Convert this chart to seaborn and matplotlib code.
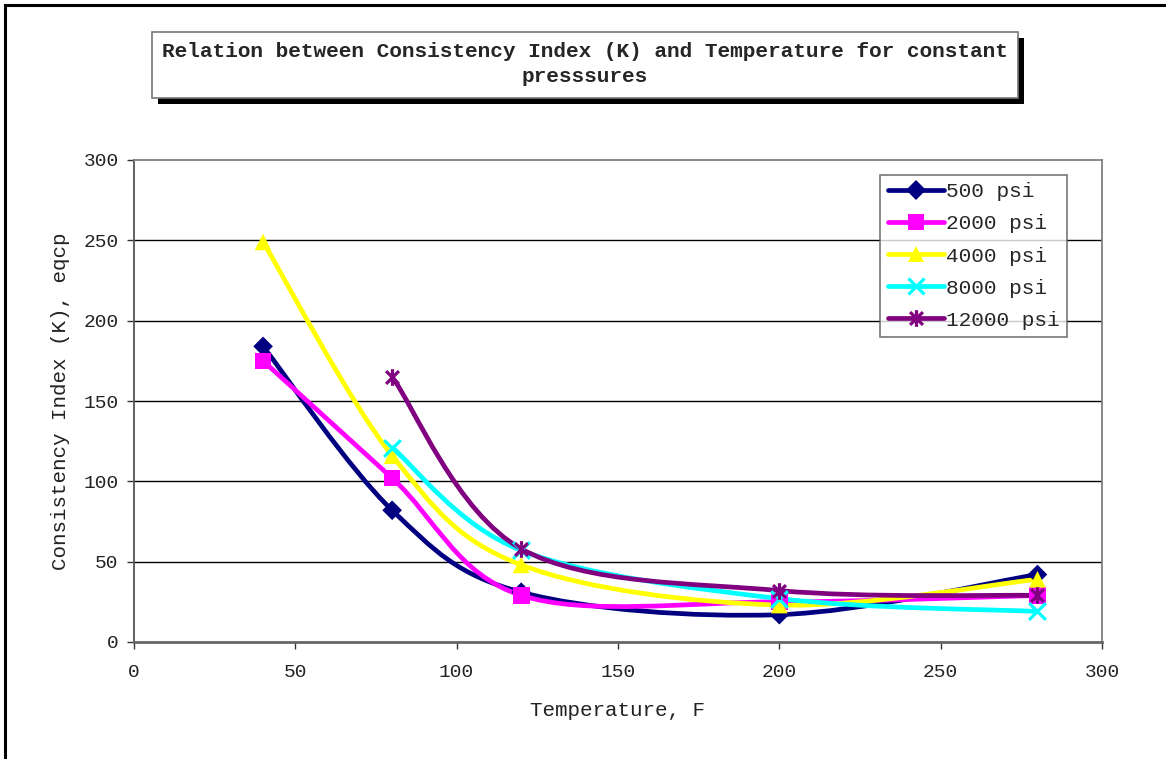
import numpy as np
import pandas as pd
import matplotlib
matplotlib.use("Agg")
import matplotlib.pyplot as plt
from matplotlib.path import Path
from matplotlib.patches import PathPatch, Rectangle
from matplotlib.lines import Line2D
import seaborn as sns

# ---- data ----
temperature = [40, 80, 120, 200, 280]
k_500 = [184, 82, 31, 17, 42]
k_2000 = [175, 102, 29, 25, 29]
k_4000 = [249, 116, 48, 23, 39]
k_8000 = [None, 121, 57, 27, 19]
k_12000 = [None, 165, 58, 32, 29]
series_names = ["500 psi", "2000 psi", "4000 psi", "8000 psi", "12000 psi"]
x_ticks = [0, 50, 100, 150, 200, 250, 300]
y_ticks = [0, 50, 100, 150, 200, 250, 300]
title_text = "Relation between Consistency Index (K) and Temperature for constant\npresssures"
x_label = "Temperature, F"
y_label = "Consistency Index (K), eqcp"

colors = ["#000080", "#FF00FF", "#FFFF00", "#00FFFF", "#800080"]

# custom Excel-like star marker (X with vertical bar)
star_path = Path(
    [(-1, -1), (1, 1), (-1, 1), (1, -1), (0, -1.3), (0, 1.3)],
    [Path.MOVETO, Path.LINETO, Path.MOVETO, Path.LINETO, Path.MOVETO, Path.LINETO],
)
markers = ["D", "s", "^", "x", star_path]
msizes = [10, 12, 12, 12, 12]

rows = []
for name, vals in zip(series_names, [k_500, k_2000, k_4000, k_8000, k_12000]):
    for t, v in zip(temperature, vals):
        if v is not None:
            rows.append({"Temperature": t, "K": v, "Series": name})
df = pd.DataFrame(rows)

sns.set_theme(style="white")
plt.rcParams["font.family"] = ["Liberation Mono", "DejaVu Sans Mono"]

fig = plt.figure(figsize=(11.66, 7.59), dpi=100)
W, H = 1166, 759
ax = fig.add_axes([134 / W, 1 - 642 / H, 968 / W, 482 / H])


def smooth_path(xs, ys):
    pts = np.column_stack([xs, ys]).astype(float)
    n = len(pts)
    verts = [pts[0]]
    codes = [Path.MOVETO]
    for i in range(n - 1):
        p0 = pts[i - 1] if i > 0 else pts[i]
        p1 = pts[i]
        p2 = pts[i + 1]
        p3 = pts[i + 2] if i + 2 < n else pts[i + 1]
        c1 = p1 + (p2 - p0) / 6.0
        c2 = p2 - (p3 - p1) / 6.0
        verts += [c1, c2, p2]
        codes += [Path.CURVE4] * 3
    return Path(verts, codes)


def is_line_marker(m):
    return (isinstance(m, str) and m == "x") or m is star_path


for name, col, mk, ms in zip(series_names, colors, markers, msizes):
    sub = df[df["Series"] == name]
    p = smooth_path(sub["Temperature"].values, sub["K"].values)
    ax.add_patch(PathPatch(p, facecolor="none", edgecolor=col, lw=3.4,
                           capstyle="round", joinstyle="round", zorder=3))
    lw_m = 2.3 if is_line_marker(mk) else 0
    sns.scatterplot(data=sub, x="Temperature", y="K", ax=ax, color=col,
                    marker=mk, s=ms ** 2, edgecolor=col if lw_m else "none",
                    linewidth=lw_m, zorder=4, legend=False)

ax.set_xlim(0, 300)
ax.set_ylim(0, 300)
ax.set_xticks(x_ticks)
ax.set_yticks(y_ticks)
ax.set_xticklabels([str(v) for v in x_ticks], fontsize=14, color="#222222")
ax.set_yticklabels([str(v) for v in y_ticks], fontsize=14, color="#222222")
ax.tick_params(axis="both", direction="out", length=5, width=1, color="#333333",
               bottom=True, left=True)
ax.tick_params(axis="x", pad=11)
ax.tick_params(axis="y", pad=6)
for yv in y_ticks[1:-1]:
    ax.axhline(yv, color="black", lw=1, zorder=1)
for s in ax.spines.values():
    s.set_color("#808080")
    s.set_linewidth(1.3)
ax.spines["bottom"].set_linewidth(2)
ax.spines["bottom"].set_color("#666666")
ax.spines["left"].set_color("#555555")
ax.set_xlabel(x_label, fontsize=15, labelpad=14, color="#222222")
ax.set_ylabel(y_label, fontsize=15, labelpad=10, color="#222222")

handles = [Line2D([0], [0], color=c, lw=3.4, marker=m, markersize=ms,
                  markeredgewidth=(2.3 if is_line_marker(m) else 0),
                  markeredgecolor=c, markerfacecolor=c)
           for c, m, ms in zip(colors, markers, msizes)]
leg = ax.legend(handles, series_names, loc="upper left",
                bbox_to_anchor=(0.771, 0.969), frameon=True, fancybox=False,
                edgecolor="#555555", fontsize=15.2, handlelength=2.65,
                handletextpad=0.1, borderpad=0.35, labelspacing=0.62,
                borderaxespad=0)
leg.get_frame().set_linewidth(1.2)
leg.set_zorder(10)

# title box with shadow
fig.patches.append(Rectangle((158 / W, 1 - 104 / H), 866 / W, 66 / H,
                             transform=fig.transFigure, facecolor="black",
                             edgecolor="none", zorder=1))
fig.patches.append(Rectangle((152 / W, 1 - 98 / H), 866 / W, 66 / H,
                             transform=fig.transFigure, facecolor="white",
                             edgecolor="#777777", lw=1.2, zorder=2))
fig.text(585 / W, 1 - 64 / H, title_text, ha="center", va="center",
         fontsize=15.2, fontweight="bold", linespacing=1.45, zorder=3)

# figure border
fig.patches.append(Rectangle((5 / W, -0.05), 1.2, 1 - 5 / H + 0.05,
                             transform=fig.transFigure, facecolor="none",
                             edgecolor="black", lw=2.2, zorder=0))

fig.savefig("out.png", dpi=100)
